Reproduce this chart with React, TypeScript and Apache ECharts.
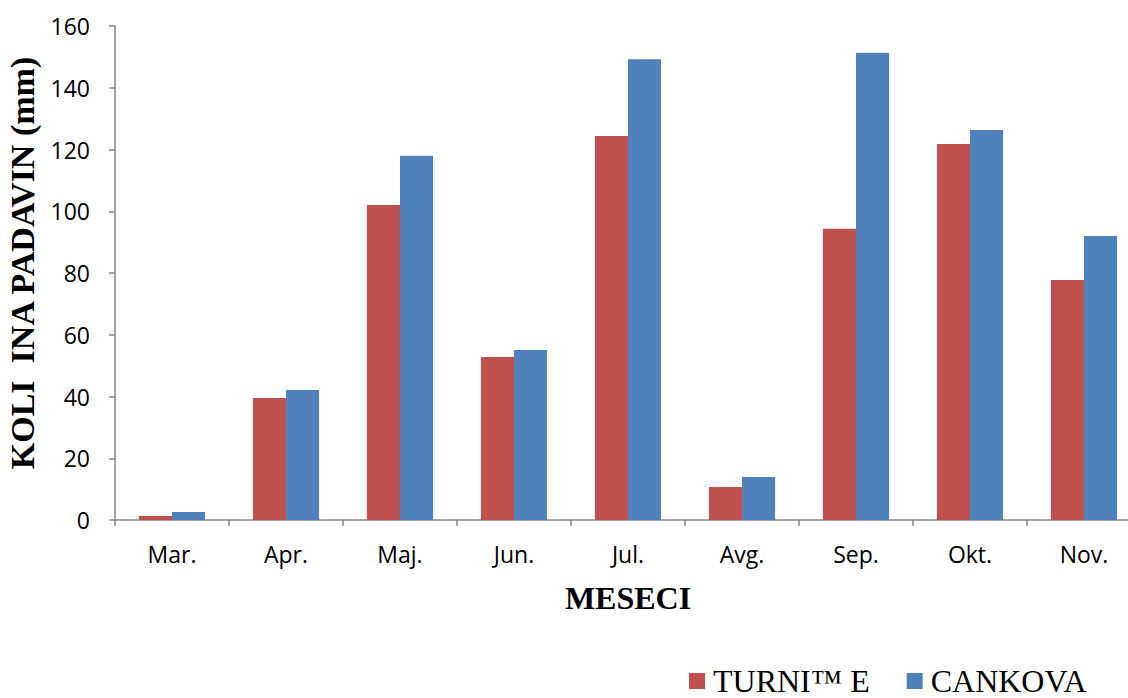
import React, { useEffect, useRef } from "react";
import * as echarts from "echarts";

const months = ["Mar.", "Apr.", "Maj.", "Jun.", "Jul.", "Avg.", "Sep.", "Okt.", "Nov."];
const turnisce = [1.3, 39.5, 102, 52.8, 124.4, 10.7, 94.3, 121.8, 77.7];
const cankova = [2.6, 42.1, 118, 55.1, 149.2, 13.9, 151.3, 126.3, 92];
const seriesNames = ["TURNI\u2122 E", "CANKOVA"];

export default function App() {
  const ref = useRef<HTMLDivElement>(null);
  useEffect(() => {
    if (!ref.current) return;
    const chart = echarts.init(ref.current, null, { renderer: "svg" });
    const axisColor = "#868686";
    chart.setOption({
      animation: false,
      backgroundColor: "#ffffff",
      grid: { left: 115, top: 26, width: 1026, height: 494, outerBoundsMode: "none", containLabel: false },
      legend: {
        left: 684,
        top: 660,
        itemWidth: 16,
        itemHeight: 16,
        itemGap: 37,
        icon: "rect",
        textStyle: {
          fontFamily: "Liberation Serif",
          fontSize: 32,
          color: "#000",
          padding: [0, 0, 0, 3],
        },
        data: seriesNames,
      },
      xAxis: {
        type: "category",
        data: months,
        axisLine: { lineStyle: { color: axisColor, width: 1.5 } },
        axisTick: { show: true, length: 6, lineStyle: { color: axisColor, width: 1.5 } },
        axisLabel: { fontFamily: "Open Sans", fontSize: 23, color: "#000", margin: 22 },
        name: "MESECI",
        nameLocation: "middle",
        nameGap: 62,
        nameTextStyle: { fontFamily: "Liberation Serif", fontWeight: "bold", fontSize: 32, color: "#000" },
      },
      yAxis: {
        type: "value",
        min: 0,
        max: 160,
        interval: 20,
        splitLine: { show: false },
        axisLine: { show: true, lineStyle: { color: axisColor, width: 1.5 } },
        axisTick: { show: true, length: 6, lineStyle: { color: axisColor, width: 1.5 } },
        axisLabel: { fontFamily: "Open Sans", fontSize: 23, color: "#000", margin: 25 },
        name: "KOLI  INA PADAVIN (mm)",
        nameLocation: "middle",
        nameGap: 72,
        nameRotate: 90,
        nameTextStyle: {
          fontFamily: "Liberation Serif",
          fontWeight: "bold",
          fontSize: 34,
          color: "#000",
          padding: [0, 0, 0, 20],
        },
      },
      series: [
        {
          name: seriesNames[0],
          type: "bar",
          data: turnisce,
          barGap: "0%",
          barCategoryGap: "42%",
          itemStyle: { color: "#C0504D" },
        },
        {
          name: seriesNames[1],
          type: "bar",
          data: cankova,
          barGap: "0%",
          barCategoryGap: "42%",
          itemStyle: { color: "#4F81BD" },
        },
      ],
    });
    return () => chart.dispose();
  }, []);
  return (
    <div
      ref={ref}
      style={{ position: "fixed", left: 0, top: 0, width: 1160, height: 698, background: "#fff" }}
    />
  );
}
